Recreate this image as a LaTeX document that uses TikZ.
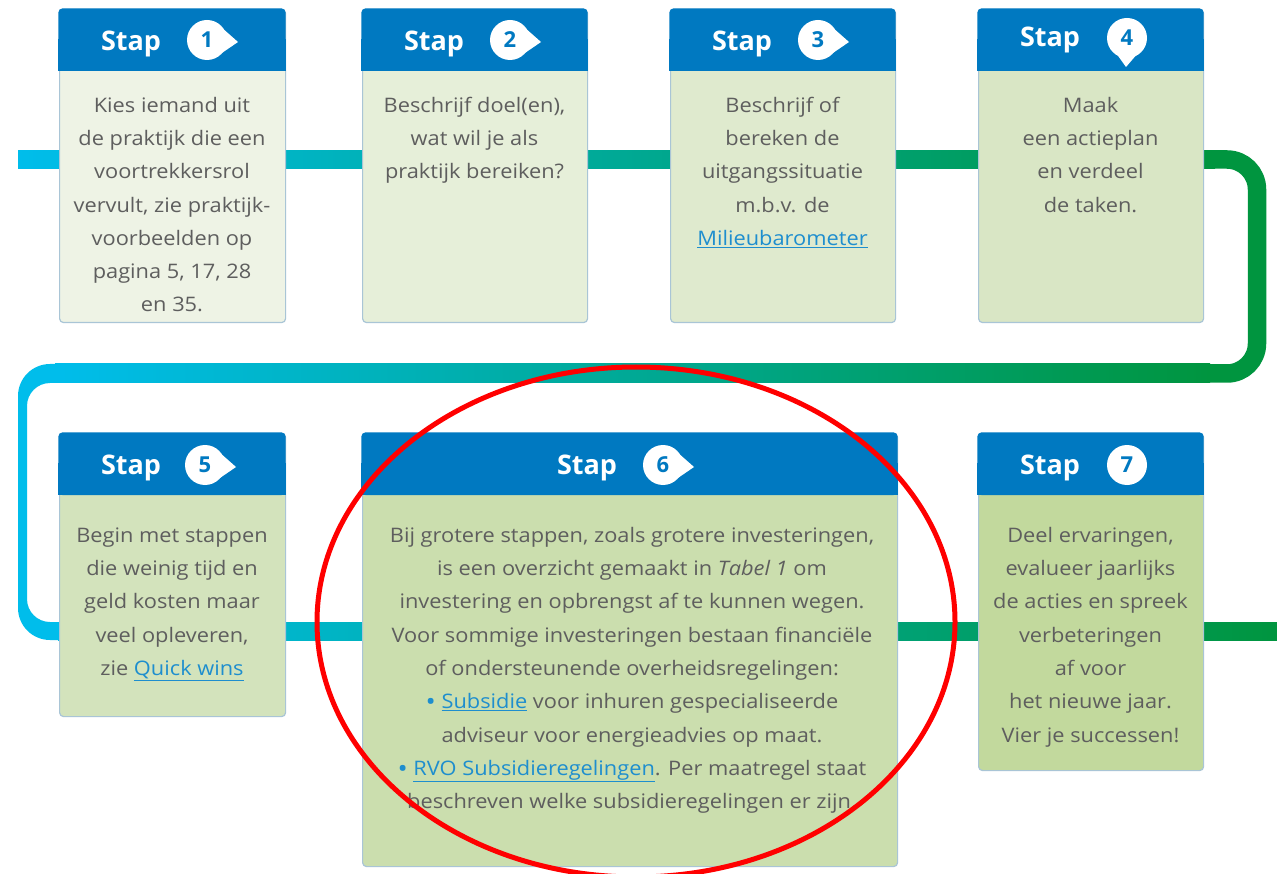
\documentclass[tikz,border=0pt]{standalone}
\usepackage{fontspec}
\setmainfont{Open Sans}[FakeStretch=1.09]
\newfontfamily\hdrfont{Open Sans}
\definecolor{hblue}{HTML}{0079C1}
\definecolor{pcyan}{HTML}{00BDEB}
\definecolor{pgreen}{HTML}{00953F}
\definecolor{bord}{HTML}{A9C5D6}
\definecolor{tgrey}{HTML}{5E5E5E}
\definecolor{linkc}{HTML}{1E8ECE}
\definecolor{fa}{HTML}{EEF3E5}
\definecolor{fb}{HTML}{E6EFD9}
\definecolor{fc}{HTML}{DFEACE}
\definecolor{fd}{HTML}{D9E6C5}
\definecolor{fe}{HTML}{D3E3BC}
\definecolor{ff}{HTML}{CBDEAE}
\definecolor{fg}{HTML}{C2D99D}
\newcommand\lnk[1]{\textcolor{linkc}{\underline{#1}}}
\newcommand\fl{\rule{0pt}{16pt}}
\newcommand\blt{\textcolor{linkc}{\raisebox{-2.2pt}{\fontsize{25pt}{20pt}\selectfont •}}}
\tikzset{
  box/.style={draw=bord, line width=1.2pt, rounded corners=4pt, inner sep=0pt, anchor=north west},
  hdrtext/.style={font=\hdrfont\bfseries\fontsize{27pt}{30pt}\selectfont, text=white, anchor=base, inner sep=0pt},
  numtext/.style={font=\hdrfont\bfseries\fontsize{22pt}{24pt}\selectfont, text=hblue, inner sep=0pt},
  body/.style={font=\fontsize{20pt}{33.3pt}\selectfont, text=tgrey, align=center, anchor=north, inner sep=0pt},
}
% #1 name, #2 x1, #3 y1, #4 x2, #5 y2, #6 fill
\newcommand\stapbox[6]{%
  \node[box, fill=#6, minimum width={(#4-#2)*1pt}, minimum height={(#5-#3)*1pt}] (#1) at (#2,#3) {};
  \fill[hblue, rounded corners=4pt] (#2-0.6,#3-0.6) rectangle (#4+0.6,#3+62);
  \fill[hblue] (#2-0.6,#3+30) rectangle (#4+0.6,#3+62);
}
\newcommand\badgeR[2]{% center x, y ; tail to the right
  \fill[white] (#1,#2) circle [radius=20];
  \fill[white] (#1+14,#2-13) -- (#1+31,#2+2) -- (#1+12,#2+15) -- cycle;
}
\begin{document}
\begin{tikzpicture}[x=1pt,y=-1pt]
\useasboundingbox (0,0) rectangle (1277,874);
\fill[white] (0,0) rectangle (1277,874);
\clip (0,0) rectangle (1277,874);
% pipe
\shade[left color=pcyan, right color=pgreen] (18,150.5) rectangle (1215,168.5);
\draw[pgreen, line width=18.5pt, rounded corners=30pt] (1205,159.5) -- (1257,159.5) -- (1257,373.5) -- (1205,373.5);
\shade[left color=pcyan, right color=pgreen] (55,364) rectangle (1210,383);
\fill[pcyan] (60,364) -- (50,364) arc[start angle=270, end angle=180, radius=32]
  -- (18,608) arc[start angle=180, end angle=90, radius=32]
  -- (62,640) -- (62,622) -- (50,622) arc[start angle=90, end angle=180, radius=23]
  -- (27,406) arc[start angle=180, end angle=270, radius=23] -- (60,383) -- cycle;
\shade[left color=pcyan, right color=pgreen] (58,622) rectangle (1277,640);
% boxes
\stapbox{b1}{59}{9}{285}{322}{fa}
\stapbox{b2}{362}{9}{587}{322}{fb}
\stapbox{b3}{670}{9}{895}{322}{fc}
\stapbox{b4}{978}{9}{1203}{322}{fd}
\stapbox{b5}{59}{433}{285}{716}{fe}
\stapbox{b6}{362}{433}{897}{866}{ff}
\stapbox{b7}{978}{433}{1203}{770}{fg}
% headers
\node[hdrtext] (s1) at (131,50.5) {Stap};
\node[hdrtext] (s2) at (434,50.5) {Stap};
\node[hdrtext] (s3) at (742,50.5) {Stap};
\node[hdrtext] (s4) at (1050,46.5) {Stap};
\node[hdrtext] (s5) at (131,474.5) {Stap};
\node[hdrtext] (s6) at (587,474.5) {Stap};
\node[hdrtext] (s7) at (1050,474.5) {Stap};
\badgeR{207}{40}
\badgeR{510}{40}
\badgeR{818}{40}
\fill[white] (1127,38) circle [radius=20];
\fill[white] (1116,53) -- (1126,67) -- (1138,53) -- cycle;
\badgeR{205}{465}
\badgeR{663}{465}
\fill[white] (1127,465) circle [radius=20];
\node[numtext] (n1) at (207,40) {1};
\node[numtext] (n2) at (510,40) {2};
\node[numtext] (n3) at (818,40) {3};
\node[numtext] (n4) at (1127,38) {4};
\node[numtext] (n5) at (205,465) {5};
\node[numtext] (n6) at (663,465) {6};
\node[numtext] (n7) at (1127,465) {7};
% body texts
\node[body] (t1) at (172,96) {\fl Kies iemand uit\\de praktijk die een\\voortrekkersrol\\vervult, zie praktijk-\\voorbeelden op\\pagina 5, 17, 28\\en 35.};
\node[body] (t2) at (474.5,96) {\fl Beschrijf doel(en),\\wat wil je als\\praktijk bereiken?};
\node[body] (t3) at (782.5,96) {\fl Beschrijf of\\bereken de\\uitgangssituatie\\m.b.v. de\\\lnk{Milieubarometer}};
\node[body] (t4) at (1090.5,96) {\fl Maak\\een actieplan\\en verdeel\\de taken.};
\node[body] (t5) at (172,526) {\fl Begin met stappen\\die weinig tijd en\\geld kosten maar\\veel opleveren,\\zie \lnk{Quick wins}};
\node[body] (t6) at (632,526) {\fl Bij grotere stappen, zoals grotere investeringen,\\is een overzicht gemaakt in \textit{Tabel 1} om\\investering en opbrengst af te kunnen wegen.\\Voor sommige investeringen bestaan financiële\\of ondersteunende overheidsregelingen:\\\blt\ \lnk{Subsidie} voor inhuren gespecialiseerde\\adviseur voor energieadvies op maat.\\\blt\ \lnk{RVO Subsidieregelingen}. Per maatregel staat\\beschreven welke subsidieregelingen er zijn.};
\node[body] (t7) at (1090.5,526) {\fl Deel ervaringen,\\evalueer jaarlijks\\de acties en spreek\\verbeteringen\\af voor\\het nieuwe jaar.\\Vier je successen!};
% highlight ellipse
\draw[red, line width=5pt] (636,622) ellipse [x radius=319, y radius=255];
\end{tikzpicture}
\end{document}
